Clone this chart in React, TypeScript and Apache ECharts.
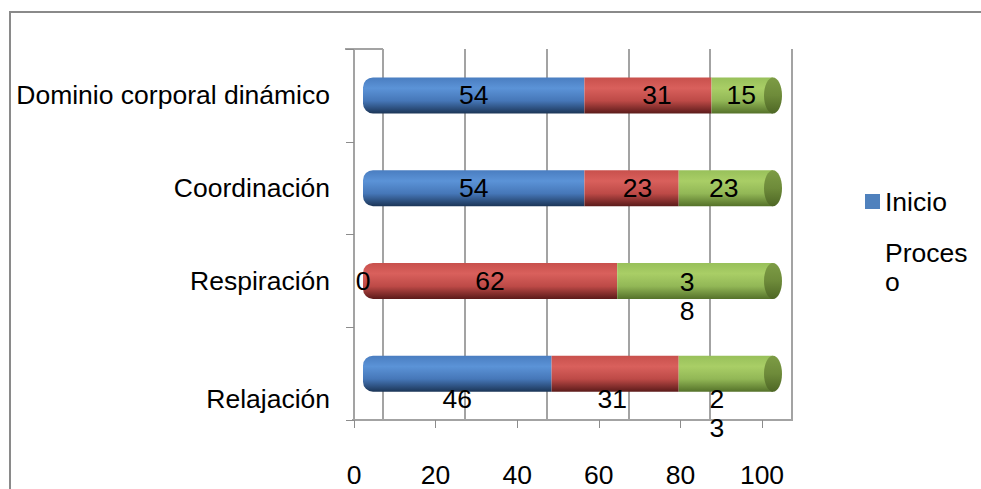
import React, { useEffect, useRef } from "react";
import * as echarts from "echarts";

const categories = ["Dominio corporal dinámico", "Coordinación", "Respiración", "Relajación"];
const inicio = [54, 54, 0, 46];
const proceso = [31, 23, 62, 31];
const logro = [15, 23, 38, 23];
const xTicks = [0, 20, 40, 60, 80, 100];
const legendNames = ["Inicio", "Proceso"];

// label placement (style only)
const inicioOffsets = [[0, 0], [0, 0], [0, 0], [0, 25]];
const procesoOffsets = [[9, 0], [6, 0], [0, 0], [-3, 25]];
const logroOffsets = [[-1, 0], [-2, 0], [-8, 16], [-9, 40]];
const logroWrap = [false, false, true, true];
const categoryLabelShift = [0, 0, 0, 25];

const FONT = "'Liberation Sans', Arial, sans-serif";
const FS = 26.5;

const grad = (stops: [number, string][]) =>
  new echarts.graphic.LinearGradient(0, 0, 0, 1, stops.map(([offset, color]) => ({ offset, color })));

export default function App() {
  const ref = useRef<HTMLDivElement>(null);
  useEffect(() => {
    if (!ref.current) return;
    const chart = echarts.init(ref.current, null, { renderer: "svg" });
    const blue = grad([[0, "#4a7dc0"], [0.3, "#5b93d7"], [0.65, "#4677b8"], [1, "#1c3658"]]);
    const red = grad([[0, "#c8504c"], [0.3, "#d9605c"], [0.65, "#bd4a47"], [1, "#5c1b1a"]]);
    const green = grad([[0, "#98c05a"], [0.3, "#a9ce66"], [0.65, "#92b756"], [1, "#55722a"]]);
    const cap = grad([[0, "#7d9c45"], [0.5, "#6e8b3a"], [1, "#4e6725"]]);
    const totals = categories.map((_, i) => inicio[i] + proceso[i] + logro[i]);
    const baseLabel = { show: true, position: "inside", fontSize: FS, color: "#000", fontFamily: FONT };

    const option: any = {
      animation: false,
      textStyle: { fontFamily: FONT, fontSize: FS, color: "#000" },
      grid: [
        { left: 383, top: 49, width: 409, height: 371, outerBoundsMode: "none" },
        { left: 354, top: 49, width: 408, height: 371, outerBoundsMode: "none" },
        { left: 363, top: 49, width: 410, height: 371, outerBoundsMode: "none" },
      ],
      xAxis: [
        {
          gridIndex: 0, type: "value", min: 0, max: 100, interval: 20,
          axisLine: { show: false }, axisTick: { show: false }, axisLabel: { show: false },
          splitLine: { show: true, lineStyle: { color: "#a3a3a3", width: 2 } },
        },
        {
          gridIndex: 1, type: "value", min: xTicks[0], max: xTicks[xTicks.length - 1], interval: 20,
          axisLine: { show: false },
          axisTick: { show: true, length: 8, lineStyle: { color: "#8c8c8c", width: 1 } },
          axisLabel: { show: true, fontSize: FS, color: "#000", margin: 46, lineHeight: 18, fontFamily: FONT },
          splitLine: { show: false },
        },
        {
          gridIndex: 2, type: "value", min: 0, max: 100, show: false,
        },
      ],
      yAxis: [
        { gridIndex: 0, type: "category", data: categories, show: false, inverse: true },
        {
          gridIndex: 1, type: "category", data: categories, inverse: true,
          axisLine: { show: true, lineStyle: { color: "#a3a3a3", width: 2 } },
          axisTick: { show: true, length: 8, lineStyle: { color: "#8c8c8c", width: 1 } },
          axisLabel: { show: false },
        },
        {
          gridIndex: 2, type: "category", data: categories, inverse: true,
          axisLine: { show: false }, axisTick: { show: false },
          axisLabel: {
            show: true, fontSize: FS, color: "#000", margin: 33, fontFamily: FONT,
            formatter: (v: string, idx: number) =>
              categoryLabelShift[idx] ? `{low|${v}}` : v,
            rich: {
              low: { fontSize: FS, color: "#000", fontFamily: FONT, padding: [50, 0, 0, 0] },
            },
          },
        },
      ],
      legend: {
        orient: "vertical", left: 860, top: 182, itemWidth: 15, itemHeight: 15, itemGap: 22,
        selectedMode: false,
        textStyle: { fontSize: FS, color: "#000", width: 90, overflow: "breakAll", lineHeight: 29, fontFamily: FONT },
        data: [
          { name: legendNames[0], icon: "rect", itemStyle: { color: "#4f81bd" } },
          { name: legendNames[1], icon: "none" },
        ],
      },
      graphic: [
        { type: "polyline", shape: { points: [[10, 1000], [10, 12], [1100, 12]] }, style: { fill: "none", stroke: "#8a8a8a", lineWidth: 2 }, silent: true },
        { type: "line", shape: { x1: 345, y1: 49, x2: 383, y2: 49 }, style: { stroke: "#a3a3a3", lineWidth: 2 }, silent: true },
        { type: "line", shape: { x1: 352, y1: 420, x2: 793, y2: 420 }, style: { stroke: "#a3a3a3", lineWidth: 2 }, silent: true },
      ],
      series: [
        {
          name: "Inicio", type: "bar", stack: "t", xAxisIndex: 2, yAxisIndex: 2, barWidth: 36,
          itemStyle: { color: blue, borderRadius: [10, 0, 0, 10] },
          label: baseLabel,
          data: inicio.map((v, i) => ({ value: v, label: { offset: inicioOffsets[i] } })),
        },
        {
          name: "Proceso", type: "bar", stack: "t", xAxisIndex: 2, yAxisIndex: 2, barWidth: 36,
          itemStyle: { color: red },
          label: baseLabel,
          data: proceso.map((v, i) => ({
            value: v,
            label: { offset: procesoOffsets[i] },
            itemStyle: inicio[i] === 0 ? { borderRadius: [10, 0, 0, 10] } : undefined,
          })),
        },
        {
          name: "Logro", type: "bar", stack: "t", xAxisIndex: 2, yAxisIndex: 2, barWidth: 36,
          itemStyle: { color: green },
          label: baseLabel,
          data: logro.map((v, i) => ({
            value: v,
            label: logroWrap[i]
              ? { offset: logroOffsets[i], width: 16, overflow: "breakAll", lineHeight: 29 }
              : { offset: logroOffsets[i] },
          })),
        },
        {
          type: "custom", xAxisIndex: 2, yAxisIndex: 2, silent: true, z: 3,
          data: totals.map((t, i) => [t, i]),
          renderItem: (params: any, api: any) => {
            const p = api.coord([api.value(0), api.value(1)]);
            return {
              type: "ellipse",
              shape: { cx: p[0], cy: p[1], rx: 9, ry: 18 },
              style: { fill: cap },
            };
          },
        },
      ],
    };
    chart.setOption(option);
    return () => chart.dispose();
  }, []);
  return <div ref={ref} style={{ position: "absolute", left: 0, top: 0, width: 981, height: 489 }} />;
}
